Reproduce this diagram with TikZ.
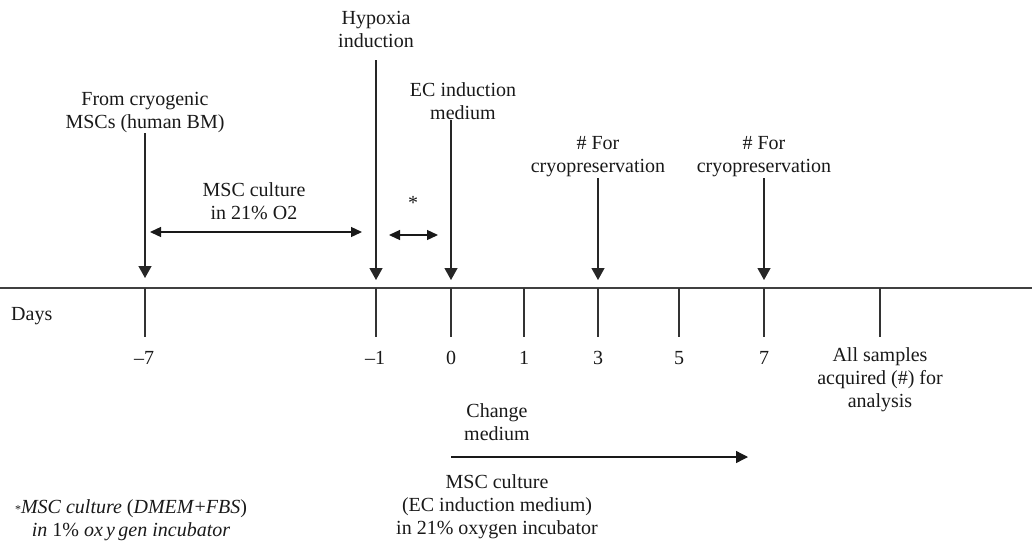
\documentclass[tikz,border=0pt]{standalone}
\usepackage{fontspec}
\setmainfont{Liberation Serif}
\usetikzlibrary{arrows.meta}
\begin{document}
\begin{tikzpicture}[x=1pt,y=-1pt,
  lbl/.style={font=\fontsize{20}{23}\selectfont, align=center, inner sep=0pt, text=black!90},
  axis/.style={line width=1.3pt, draw=black!75},
  tick/.style={line width=1.2pt, draw=black!80},
  darr/.style={line width=1.3pt, draw=black!85, -{Triangle[width=13pt,length=12pt]}},
  harr/.style={line width=1.3pt, draw=black!90, {Triangle[width=10pt,length=11pt]}-{Triangle[width=10pt,length=11pt]}},
  rarr/.style={line width=1.3pt, draw=black!90, -{Triangle[width=12pt,length=12pt]}}]
\useasboundingbox (0,0) rectangle (1032,544);
% timeline
\coordinate (L) at (0,288);
\coordinate (R) at (1032,288);
\draw[axis] (L) -- (R);
\node[lbl, anchor=west] (days) at (11,316) {Days};
% ticks
\foreach \n/\x in {m7/145, m1/376, z/451, one/524, three/598, five/679, seven/764, all/880}{
  \coordinate (t\n) at (\x,288);
  \coordinate (b\n) at (\x,337);
  \draw[tick] (t\n) -- (b\n);
}
% tick labels
\node[lbl] (lm7) at (144,358) {–7};
\node[lbl] (lm1) at (375,358) {–1};
\node[lbl] (lz) at (451,358) {0};
\node[lbl] (lone) at (524,358) {1};
\node[lbl] (lthree) at (598,358) {3};
\node[lbl] (lfive) at (679,358) {5};
\node[lbl] (lseven) at (764,358) {7};
\node[lbl] (lall) at (880,380) {All samples\\acquired (\#) for\\analysis};
% top labels
\node[lbl] (hyp) at (376,29) {Hypoxia\\induction};
\node[lbl] (cryo) at (145,113) {From cryogenic\\MSCs (human BM)};
\node[lbl] (ec) at (463,101) {EC induction\\medium};
\node[lbl] (c3) at (598,157) {\# For\\cryopreservation};
\node[lbl] (c7) at (764,157) {\# For\\cryopreservation};
\node[lbl] (msc21) at (254,201) {MSC culture\\in 21\% O2};
\node[lbl] (star) at (413,203) {*};
% arrow end coordinates
\coordinate (am7s) at (145,133);  \coordinate (am7e) at (145,278);
\coordinate (am1s) at (376,60);   \coordinate (am1e) at (376,280);
\coordinate (azs) at (451,120);   \coordinate (aze) at (451,280);
\coordinate (a3s) at (598,178);   \coordinate (a3e) at (598,280);
\coordinate (a7s) at (764,178);   \coordinate (a7e) at (764,280);
\draw[darr] (am7s) -- (am7e);
\draw[darr] (am1s) -- (am1e);
\draw[darr] (azs) -- (aze);
\draw[darr] (a3s) -- (a3e);
\draw[darr] (a7s) -- (a7e);
% horizontal double arrows
\coordinate (h1a) at (150,232); \coordinate (h1b) at (362,232);
\draw[harr] (h1a) -- (h1b);
\coordinate (h2a) at (389,235); \coordinate (h2b) at (438,235);
\draw[harr] (h2a) -- (h2b);
% bottom
\node[lbl] (chg) at (497,422) {Change\\medium};
\coordinate (ba) at (451,457); \coordinate (bb) at (748,457);
\draw[rarr] (ba) -- (bb);
\node[lbl] (mscec) at (497,507) {MSC culture\\(EC induction medium)\\in 21\% oxygen incubator};
% footnote
\node[lbl] (foot) at (131,520) {{\fontsize{12}{12}\selectfont *}\textit{MSC culture} (\textit{DMEM}+\textit{FBS})\\\textit{in} 1\% \textit{ox\,y\,gen incubator}};
\end{tikzpicture}
\end{document}
